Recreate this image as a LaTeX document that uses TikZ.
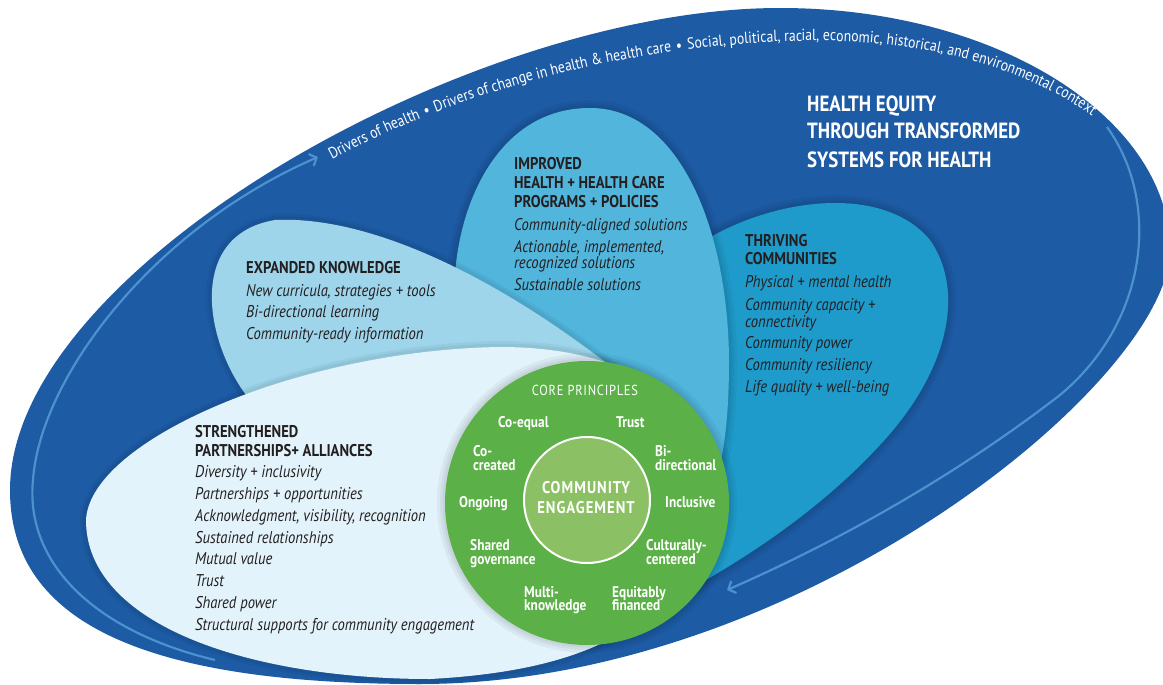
\documentclass[tikz,border=0pt]{standalone}
\usepackage{fontspec}
\setmainfont{PT Sans}[FakeStretch=0.86]
\usetikzlibrary{decorations.text,arrows.meta}
\definecolor{outerblue}{HTML}{1D5BA5}
\definecolor{arrowblue}{HTML}{4B92CF}
\definecolor{improvedc}{HTML}{52B5DC}
\definecolor{thrivingc}{HTML}{1F9BCB}
\definecolor{expandedc}{HTML}{9ED5EB}
\definecolor{strengthc}{HTML}{E3F3FB}
\definecolor{greenc}{HTML}{5BB047}
\definecolor{innergreen}{HTML}{8CC064}
\definecolor{darktext}{HTML}{231F20}
\begin{document}
\begin{tikzpicture}[x=1pt,y=-1pt,
  ttl/.style={font=\bfseries\fontsize{17}{19}\selectfont, text=darktext, anchor=base west, inner sep=0pt},
  itm/.style={font=\itshape\fontsize{17}{19}\selectfont, text=darktext, anchor=base west, inner sep=0pt},
  prin/.style={font=\bfseries\fontsize{15.5}{14}\selectfont, text=white, anchor=base west, inner sep=0pt},
  bigttl/.style={font=\bfseries\fontsize{22}{28}\selectfont, text=white, anchor=base west, inner sep=0pt},
  cetext/.style={font=\bfseries\fontsize{17}{18}\selectfont\addfontfeatures{LetterSpace=6}, text=white, anchor=base, inner sep=0pt},
  flow/.style={draw=arrowblue, line width=2.2pt, -{Straight Barb[length=6pt,width=13pt]}},
  halo/.style={draw=black, line width=#1, opacity=0.045}
]
\useasboundingbox (0,0) rectangle (1163,685);
% outer context shape
\fill[outerblue] (10,490) .. controls (10,270) and (470,8) .. (780,8)
  .. controls (1000,8) and (1170,120) .. (1170,250)
  .. controls (1170,380) and (800,684) .. (420,684)
  .. controls (150,684) and (10,625) .. cycle;
% flow arrows
\coordinate (la0) at (215,660);
\coordinate (la1) at (318,157);
\draw[flow] (la0) .. controls (90,630) and (25,560) .. (33,480) .. controls (40,380) and (150,230) .. (la1);
\coordinate (ra0) at (1107,127);
\coordinate (ra1) at (727,590);
\draw[flow] (ra0) .. controls (1160,200) and (1150,320) .. (1060,395) .. controls (950,480) and (830,545) .. (ra1);
% petals
\path[save path=\thrivP] (690,250) .. controls (760,200) and (880,180) .. (930,240)
  .. controls (965,290) and (950,370) .. (880,445)
  .. controls (820,510) and (740,565) .. (650,610) -- (640,400) -- cycle;
\path[save path=\imprP] (455,275) .. controls (460,200) and (500,108) .. (590,108)
  .. controls (680,108) and (728,230) .. (729,360)
  .. controls (729,440) and (720,500) .. (680,560) -- (520,420) -- cycle;
\path[save path=\expP] (250,400) .. controls (205,345) and (185,235) .. (275,220)
  .. controls (380,215) and (520,290) .. (640,390) -- (500,420) -- cycle;
\path[save path=\strP] (86,520) .. controls (90,440) and (300,350) .. (500,347)
  .. controls (600,347) and (680,380) .. (700,450) -- (690,560)
  .. controls (650,640) and (560,672) .. (430,679)
  .. controls (250,679) and (86,625) .. cycle;
\foreach \w in {16pt,10pt,5pt} \path[halo=\w, use path=\thrivP];
\fill[thrivingc, use path=\thrivP];
\foreach \w in {16pt,10pt,5pt} \path[halo=\w, use path=\imprP];
\fill[improvedc, use path=\imprP];
\foreach \w in {12pt,7pt} \path[halo=\w, use path=\expP];
\fill[expandedc, use path=\expP];
\foreach \w in {12pt,7pt} \path[halo=\w, use path=\strP];
\fill[strengthc, use path=\strP];
% core circle
\foreach \w in {16pt,10pt,5pt} \draw[halo=\w] (587,503) circle[radius=142pt];
\fill[greenc] (587,503) circle[radius=142pt];
\filldraw[fill=innergreen, draw=white, line width=2pt] (587,500) circle[radius=63pt];
% curved context text
\path[decorate, decoration={text along path, text color=white,
  text={|\fontsize{16}{18}\selectfont|Drivers of health{\kern5pt}{\textbullet}{\kern5pt}Drivers of change in health {\&} health care{\kern5pt}{\textbullet}{\kern5pt}Social, political, racial, economic, historical, and environmental context}}]
  (332,160) .. controls (470,85) and (640,45) .. (800,41) .. controls (950,38) and (1050,80) .. (1110,130) -- (1140,175);
% main title
\node[bigttl] (h1) at (807,112) {HEALTH EQUITY};
\node[bigttl] (h2) at (807,139) {THROUGH TRANSFORMED};
\node[bigttl] (h3) at (807,167) {SYSTEMS FOR HEALTH};
% expanded knowledge
\node[ttl] (e0) at (246,273) {EXPANDED KNOWLEDGE};
\node[itm] (e1) at (246,296) {New curricula, strategies + tools};
\node[itm] (e2) at (246,317) {Bi-directional learning};
\node[itm] (e3) at (246,339) {Community-ready information};
% improved
\node[ttl] (i0) at (514,169) {IMPROVED};
\node[ttl] (i1) at (514,188) {HEALTH + HEALTH CARE};
\node[ttl] (i2) at (514,207) {PROGRAMS + POLICIES};
\node[itm] (i3) at (514,230) {Community-aligned solutions};
\node[itm] (i4) at (514,252) {Actionable, implemented,};
\node[itm] (i5) at (514,268) {recognized solutions};
\node[itm] (i6) at (514,290) {Sustainable solutions};
% thriving
\node[ttl] (t0) at (745,246) {THRIVING};
\node[ttl] (t1) at (745,264) {COMMUNITIES};
\node[itm] (t2) at (745,287) {Physical + mental health};
\node[itm] (t3) at (745,310) {Community capacity +};
\node[itm] (t4) at (745,327) {connectivity};
\node[itm] (t5) at (745,348) {Community power};
\node[itm] (t6) at (745,370) {Community resiliency};
\node[itm] (t7) at (745,392) {Life quality + well-being};
% strengthened
\node[ttl] (s0) at (195,437) {STRENGTHENED};
\node[ttl] (s1) at (195,456) {PARTNERSHIPS+ ALLIANCES};
\foreach \t/\y [count=\i] in {{Diversity + inclusivity}/477, {Partnerships + opportunities}/499, {Acknowledgment, visibility, recognition}/521, {Sustained relationships}/543, {Mutual value}/564, {Trust}/586, {Shared power}/608, {Structural supports for community engagement}/630}
  \node[itm] (sp\i) at (195,\y) {\t};
% principles
\node[font=\fontsize{14.5}{16}\selectfont\addfontfeatures{LetterSpace=5}, text=white, anchor=base, inner sep=0pt] (cp) at (585,395) {CORE PRINCIPLES};
\node[prin] (p1) at (498,427) {Co-equal};
\node[prin] (p2) at (616,427) {Trust};
\node[prin] (p3a) at (473,456) {Co-};
\node[prin] (p3b) at (473,470) {created};
\node[prin] (p4a) at (655,456) {Bi-};
\node[prin] (p4b) at (655,470) {directional};
\node[prin] (p5) at (459,507) {Ongoing};
\node[prin] (p6) at (665,507) {Inclusive};
\node[prin] (p7a) at (470,550) {Shared};
\node[prin] (p7b) at (470,564) {governance};
\node[prin] (p8a) at (646,550) {Culturally-};
\node[prin] (p8b) at (646,564) {centered};
\node[prin] (p9a) at (524,597) {Multi-};
\node[prin] (p9b) at (524,610) {knowledge};
\node[prin] (p10a) at (612,597) {Equitably};
\node[prin] (p10b) at (612,610) {financed};
\node[cetext] (ce1) at (586,493) {COMMUNITY};
\node[cetext] (ce2) at (586,513) {ENGAGEMENT};
\end{tikzpicture}
\end{document}
